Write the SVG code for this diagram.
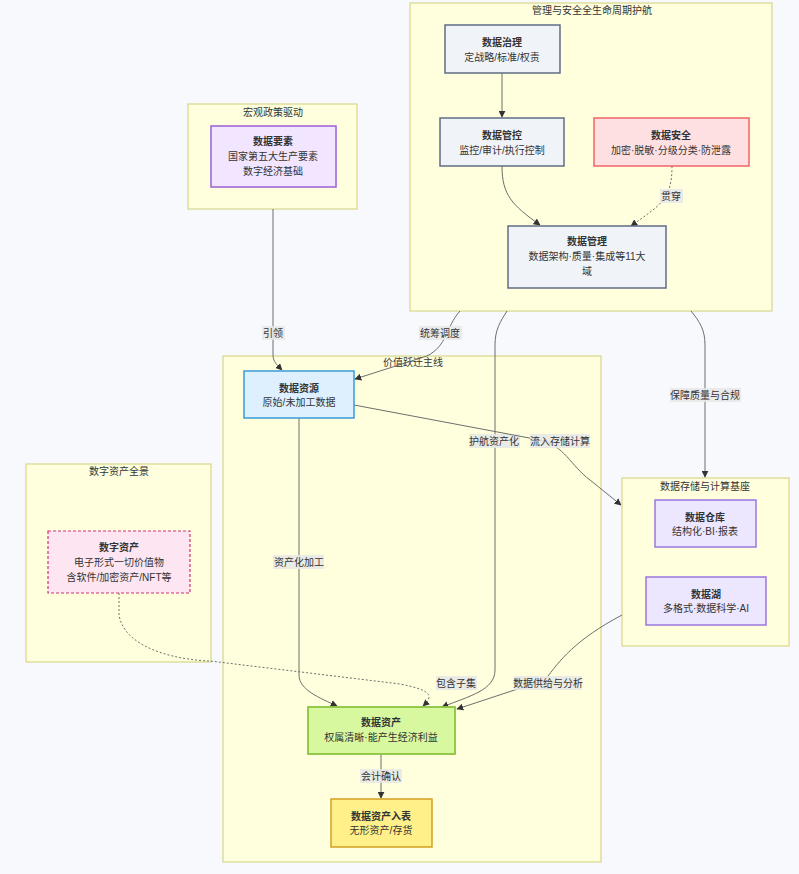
<svg xmlns="http://www.w3.org/2000/svg" width="799" height="874" viewBox="0 0 799 874">
<style>
text{font-family:"Liberation Sans","Noto Sans CJK SC",sans-serif;font-size:10px;fill:#333;text-anchor:middle;dominant-baseline:central}
.b{font-weight:bold}
.cl{fill:#ffffde;stroke:#d6d68c;stroke-width:1.2}
.e{fill:none;stroke:#6e6e6e;stroke-width:1}
.d{stroke-dasharray:2 2}
.lb{fill:#e8e8e8;opacity:0.85}
.gov{fill:#f0f4f9;stroke:#5f6d82;stroke-width:1.5}
</style>
<defs>
<marker id="ah" viewBox="0 0 10 10" refX="9" refY="5" markerWidth="7" markerHeight="7" orient="auto-start-reverse" markerUnits="userSpaceOnUse"><path d="M0,0L10,5L0,10z" fill="#333"/></marker>
</defs>
<rect width="799" height="874" fill="#f8f9fc"/>
<g id="clusters">
<g id="c-mgmt"><rect class="cl" x="410" y="3" width="362" height="308"/><text x="592" y="10">管理与安全全生命周期护航</text></g>
<g id="c-policy"><rect class="cl" x="188" y="104" width="169" height="105"/><text x="273" y="112">宏观政策驱动</text></g>
<g id="c-value"><rect class="cl" x="223" y="356" width="378" height="506"/><text x="413" y="362">价值跃迁主线</text></g>
<g id="c-digital"><rect class="cl" x="26" y="464" width="185" height="198"/><text x="119" y="471">数字资产全景</text></g>
<g id="c-storage"><rect class="cl" x="622" y="478" width="167" height="168"/><text x="705" y="486">数据存储与计算基座</text></g>
</g>
<g id="edges">
<path class="e" d="M502,73L502,117" marker-end="url(#ah)"/>
<path class="e" d="M502,166C502,195 512,205 540,225" marker-end="url(#ah)"/>
<path class="e d" d="M672,166C672,200 660,205 631,226" marker-end="url(#ah)"/>
<rect class="lb" x="660" y="189" width="23" height="14"/><text x="671" y="196">贯穿</text>
<path class="e" d="M273,209L273,355C273,362 278,366 282,370" marker-end="url(#ah)"/>
<rect class="lb" x="262" y="326" width="23" height="14"/><text x="273" y="333">引领</text>
<path class="e" d="M460,311C445,328 448,345 427,356L355,379" marker-end="url(#ah)"/>
<rect class="lb" x="419" y="326" width="43" height="14"/><text x="440" y="333">统筹调度</text>
<path class="e" d="M507,311C500,322 495,330 495,345L495,670C495,690 470,696 442,707" marker-end="url(#ah)"/>
<rect class="lb" x="469" y="434" width="51" height="14"/><text x="494" y="441">护航资产化</text>
<path class="e" d="M691,311C700,322 705,330 705,345L705,477" marker-end="url(#ah)"/>
<rect class="lb" x="670" y="388" width="71" height="14"/><text x="705" y="395">保障质量与合规</text>
<path class="e" d="M354,405L540,440C565,446 570,465 590,480L621,505" marker-end="url(#ah)"/>
<rect class="lb" x="530" y="434" width="60" height="14"/><text x="560" y="441">流入存储计算</text>
<path class="e" d="M299,418L299,675C299,690 320,698 337,706" marker-end="url(#ah)"/>
<rect class="lb" x="273" y="555" width="51" height="14"/><text x="299" y="562">资产化加工</text>
<path class="e d" d="M119,593L119,615C125,650 180,660 210,661L400,684C430,690 435,695 423,706" marker-end="url(#ah)"/>
<rect class="lb" x="436" y="676" width="41" height="14"/><text x="456" y="683">包含子集</text>
<path class="e" d="M622,615C575,640 560,660 545,680L457,709" marker-end="url(#ah)"/>
<rect class="lb" x="514" y="676" width="68" height="14"/><text x="548" y="683">数据供给与分析</text>
<path class="e" d="M381,754L381,798" marker-end="url(#ah)"/>
<rect class="lb" x="360" y="769" width="42" height="14"/><text x="381" y="776">会计确认</text>
</g>
<g id="n-gov"><rect class="gov" x="445" y="25" width="115" height="48"/><text class="b" x="502" y="42">数据治理</text><text x="502" y="57">定战略/标准/权责</text></g>
<g id="n-ctrl"><rect class="gov" x="440" y="118" width="124" height="48"/><text class="b" x="502" y="135">数据管控</text><text x="502" y="150">监控/审计/执行控制</text></g>
<g id="n-sec"><rect x="594" y="118" width="155" height="48" fill="#ffe0e2" stroke="#f06466" stroke-width="1.5"/><text class="b" x="671" y="135">数据安全</text><text x="671" y="150">加密·脱敏·分级分类·防泄露</text></g>
<g id="n-mgmt"><rect class="gov" x="508" y="226" width="158" height="62"/><text class="b" x="587" y="241">数据管理</text><text x="587" y="256">数据架构·质量·集成等11大</text><text x="587" y="271">域</text></g>
<g id="n-elem"><rect x="211" y="126" width="125" height="61" fill="#f1e5ff" stroke="#9b5fd8" stroke-width="1.5"/><text class="b" x="273" y="141">数据要素</text><text x="273" y="156">国家第五大生产要素</text><text x="273" y="171">数字经济基础</text></g>
<g id="n-res"><rect x="244" y="371" width="110" height="47" fill="#def0fd" stroke="#3a9ad9" stroke-width="1.5"/><text class="b" x="299" y="388">数据资源</text><text x="299" y="402">原始/未加工数据</text></g>
<g id="n-digital"><rect x="48" y="531" width="142" height="62" fill="#fde6f1" stroke="#cc3377" stroke-width="1.2" stroke-dasharray="3 2"/><text class="b" x="119" y="547">数字资产</text><text x="119" y="562">电子形式一切价值物</text><text x="119" y="577">含软件/加密资产/NFT等</text></g>
<g id="n-dw"><rect x="655" y="500" width="101" height="47" fill="#ece6ff" stroke="#9a77e0" stroke-width="1.5"/><text class="b" x="705" y="517">数据仓库</text><text x="705" y="531">结构化·BI·报表</text></g>
<g id="n-lake"><rect x="646" y="577" width="120" height="48" fill="#ece6ff" stroke="#9a77e0" stroke-width="1.5"/><text class="b" x="706" y="594">数据湖</text><text x="706" y="608">多格式·数据科学·AI</text></g>
<g id="n-asset"><rect x="308" y="707" width="147" height="47" fill="#d8f8a0" stroke="#8cc43f" stroke-width="1.8"/><text class="b" x="381" y="722">数据资产</text><text x="381" y="737">权属清晰·能产生经济利益</text></g>
<g id="n-book"><rect x="331" y="799" width="101" height="48" fill="#fff08a" stroke="#d4a020" stroke-width="1.5"/><text class="b" x="381" y="816">数据资产入表</text><text x="381" y="830">无形资产/存货</text></g>
</svg>
